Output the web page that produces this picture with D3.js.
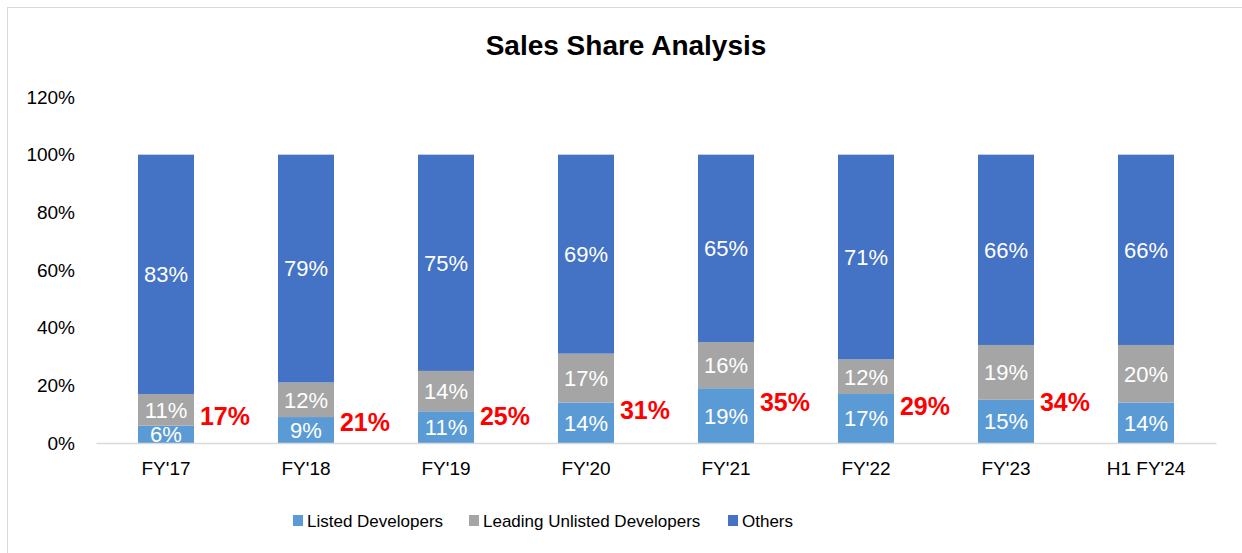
<!DOCTYPE html>
<html>
<head>
<meta charset="utf-8">
<script src="https://cdn.jsdelivr.net/npm/d3@7"></script>
<style>
  html, body { margin: 0; padding: 0; background: #fff; }
  svg text { font-family: "Liberation Sans", Arial, sans-serif; }
</style>
</head>
<body>
<div id="chart"></div>
<script>
const categories = ["FY'17", "FY'18", "FY'19", "FY'20", "FY'21", "FY'22", "FY'23", "H1 FY'24"];
const listed   = [6, 9, 11, 14, 19, 17, 15, 14];
const unlisted = [11, 12, 14, 17, 16, 12, 19, 20];
const others   = [83, 79, 75, 69, 65, 71, 66, 66];
// combined share call-outs (red), and the height (in %) they sit at
const totals      = [17, 21, 25, 31, 35, 29, 34];
const totalsLevel = [9.4, 7.3, 9.4, 11.5, 14.2, 12.8, 14.2];
const yTicks = [0, 20, 40, 60, 80, 100, 120];

const seriesNames = ['Listed Developers', 'Leading Unlisted Developers', 'Others'];
const colors = ['#5b9bd5', '#a5a5a5', '#4472c4'];

const W = 1242, H = 553;
const margin = { top: 97, right: 26, bottom: 110, left: 96 };
const innerW = W - margin.left - margin.right;
const innerH = H - margin.top - margin.bottom;

const svg = d3.select('#chart').append('svg')
  .attr('width', W)
  .attr('height', H);

// chart frame
svg.append('rect')
  .attr('x', 7.5).attr('y', 7.5)
  .attr('width', W).attr('height', H)
  .attr('fill', 'none')
  .attr('stroke', '#d9d9d9');

svg.append('text')
  .attr('x', 626)
  .attr('y', 55)
  .attr('text-anchor', 'middle')
  .attr('font-size', 28)
  .attr('font-weight', 'bold')
  .attr('fill', '#000')
  .text('Sales Share Analysis');

const g = svg.append('g')
  .attr('transform', `translate(${margin.left},${margin.top})`);

const x = d3.scaleBand()
  .domain(categories)
  .range([0, innerW])
  .paddingInner(0.6)
  .paddingOuter(0.3);

const y = d3.scaleLinear().domain([0, 120]).range([innerH, 0]);

// rows for stacking
const rows = categories.map((c, i) => ({
  cat: c,
  [seriesNames[0]]: listed[i],
  [seriesNames[1]]: unlisted[i],
  [seriesNames[2]]: others[i]
}));
const stacked = d3.stack().keys(seriesNames)(rows);

// y axis (labels only)
const yAxisG = g.append('g')
  .call(d3.axisLeft(y).tickValues(yTicks).tickFormat(d => d + '%').tickSize(0).tickPadding(21));
yAxisG.select('.domain').remove();
yAxisG.selectAll('text')
  .attr('font-size', 19)
  .attr('fill', '#000')
  .style('font-family', '"Liberation Sans", Arial, sans-serif');

// bars
const layers = g.append('g').selectAll('g.layer')
  .data(stacked)
  .join('g')
  .attr('class', 'layer')
  .attr('fill', (d, i) => colors[i]);

layers.selectAll('rect')
  .data(d => d)
  .join('rect')
  .attr('x', d => x(d.data.cat))
  .attr('y', d => y(d[1]))
  .attr('width', x.bandwidth())
  .attr('height', d => y(d[0]) - y(d[1]));

// x axis
const xAxisG = g.append('g')
  .attr('transform', `translate(0,${innerH})`)
  .call(d3.axisBottom(x).tickSize(0).tickPadding(19).tickSizeOuter(0));
xAxisG.select('.domain').attr('stroke', '#d9d9d9').attr('stroke-width', 1.5);
xAxisG.selectAll('text')
  .attr('font-size', 19)
  .attr('fill', '#000')
  .style('font-family', '"Liberation Sans", Arial, sans-serif');

// segment labels, clipped to plot area
svg.append('defs').append('clipPath').attr('id', 'plotClip')
  .append('rect').attr('x', 0).attr('y', 0).attr('width', innerW).attr('height', innerH);

const labelsG = g.append('g').attr('clip-path', 'url(#plotClip)');
stacked.forEach(layer => {
  labelsG.append('g').selectAll('text')
    .data(layer)
    .join('text')
    .attr('x', d => x(d.data.cat) + x.bandwidth() / 2)
    .attr('y', d => y((d[0] + d[1]) / 2))
    .attr('dy', '0.36em')
    .attr('text-anchor', 'middle')
    .attr('font-size', 22)
    .attr('fill', '#fff')
    .text(d => (d[1] - d[0]) + '%');
});

// red combined-share call-outs
g.append('g').selectAll('text')
  .data(totals)
  .join('text')
  .attr('x', (d, i) => x(categories[i]) + x.bandwidth() + 31)
  .attr('y', (d, i) => y(totalsLevel[i]))
  .attr('dy', '0.36em')
  .attr('text-anchor', 'middle')
  .attr('font-size', 25)
  .attr('font-weight', 'bold')
  .attr('fill', '#ff0000')
  .text(d => d + '%');

// legend
const legendX = [293, 469, 728];
const legend = svg.append('g').selectAll('g')
  .data(seriesNames)
  .join('g')
  .attr('transform', (d, i) => `translate(${legendX[i]},515)`);
legend.append('rect')
  .attr('width', 10).attr('height', 11)
  .attr('fill', (d, i) => colors[i]);
legend.append('text')
  .attr('x', 14)
  .attr('y', 6)
  .attr('dy', '0.36em')
  .attr('font-size', 17)
  .attr('fill', '#000')
  .text(d => d);
</script>
</body>
</html>
